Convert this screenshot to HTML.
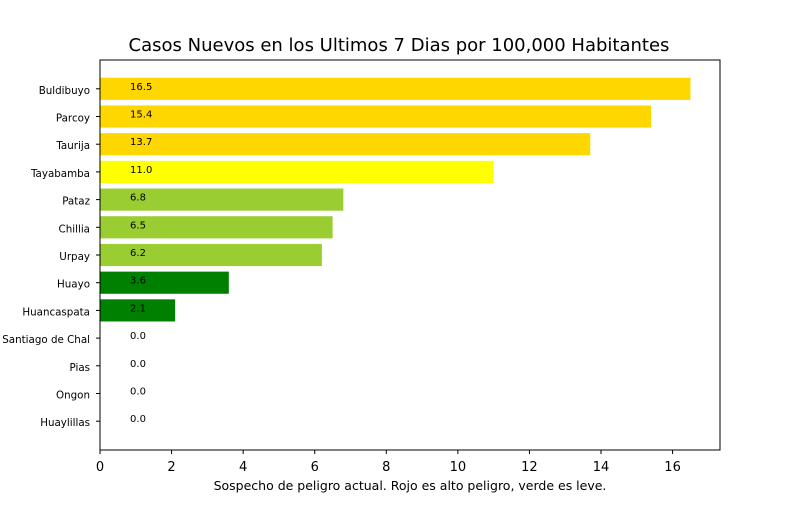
<!DOCTYPE html>
<html><head><meta charset="utf-8"><style>body{margin:0;background:#fff}svg{display:block;font-family:"DejaVu Sans","Liberation Sans",sans-serif}</style></head>
<body>
<svg id="chart" width="800" height="506"></svg>
<script>
const categories=["Buldibuyo","Parcoy","Taurija","Tayabamba","Pataz","Chillia","Urpay","Huayo","Huancaspata","Santiago de Chal","Pias","Ongon","Huaylillas"];
const values=[16.5,15.4,13.7,11.0,6.8,6.5,6.2,3.6,2.1,0.0,0.0,0.0,0.0];
const colors=["#FFD700","#FFD700","#FFD700","#FFFF00","#9ACD32","#9ACD32","#9ACD32","#008000","#008000","#008000","#008000","#008000","#008000"];
const xTicks=[0,2,4,6,8,10,12,14,16];
const L=100,R=720,T=60,B=450;
const xmax=Math.max(...values)*1.05;
const x=v=>L+(v/xmax)*(R-L);
const n=categories.length;
const ylo=-0.4-0.05*(n-1+0.8),yhi=n-1+0.4+0.05*(n-1+0.8);
const y=i=>T+(i-ylo)/(yhi-ylo)*(B-T);
const bh=0.8*(B-T)/(yhi-ylo);
const svg=document.getElementById('chart');
const NS="http://www.w3.org/2000/svg";
function mk(t,a,p){const e=document.createElementNS(NS,t);for(const k in a)e.setAttribute(k,a[k]);(p||svg).appendChild(e);return e;}
const title=mk('text',{x:399,y:51,'text-anchor':'middle','font-size':18});
title.textContent='Casos Nuevos en los Ultimos 7 Dias por 100,000 Habitantes';


categories.forEach((c,i)=>{
  const cy=y(i);
  const r=mk('rect',{x:x(0),y:cy-bh/2,width:x(values[i])-x(0),height:bh,fill:colors[i]});
  
  
  const vt=mk('text',{x:x(0.84),y:cy+1,'font-size':10});
  vt.textContent=values[i].toFixed(1);
  
  
  mk('line',{x1:L-4,x2:L,y1:cy,y2:cy,stroke:'#000'});
  const lt=mk('text',{x:L-10,y:cy+5,'font-size':10.3,'text-anchor':'end'});
  lt.textContent=c;
  
  
});
xTicks.forEach(v=>{
  const px=x(v);
  mk('line',{x1:px,x2:px,y1:B,y2:B+4,stroke:'#000'});
  const t=mk('text',{x:px,y:B+21,'font-size':13,'text-anchor':'middle'});
  t.textContent=v;
  
  
});
const fr=mk('rect',{x:L,y:T,width:R-L,height:B-T,fill:'none',stroke:'#000','stroke-width':1});


const xl=mk('text',{x:(L+R)/2,y:490,'font-size':12.5,'text-anchor':'middle'});
xl.textContent='Sospecho de peligro actual. Rojo es alto peligro, verde es leve.';


</script>
</body></html>
